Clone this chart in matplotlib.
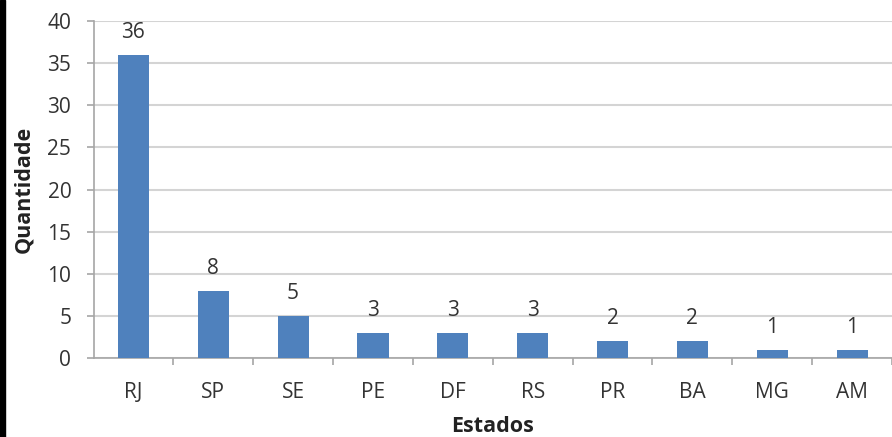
import matplotlib
matplotlib.use("Agg")
import matplotlib.pyplot as plt
from matplotlib.patches import Rectangle

categories = ["RJ", "SP", "SE", "PE", "DF", "RS", "PR", "BA", "MG", "AM"]
values = [36, 8, 5, 3, 3, 3, 2, 2, 1, 1]
yticks = [0, 5, 10, 15, 20, 25, 30, 35, 40]

plt.rcParams['font.family'] = ['Open Sans', 'DejaVu Sans']

fig = plt.figure(figsize=(8.92, 4.37), dpi=100)
fig.patches.append(Rectangle((0, 0), 5 / 892, 1, transform=fig.transFigure,
                             color='black', zorder=10))
ax = fig.add_axes([93.5 / 892, (437 - 358) / 437, 1 - 93.5 / 892, (358 - 21) / 437])

x = list(range(len(categories)))
bars = ax.bar(x, values, width=0.39, color='#4F81BD', zorder=3)
for xi, v in zip(x, values):
    ax.annotate(str(v), (xi, v), xytext=(0, 12), textcoords='offset points',
                ha='center', va='baseline', fontsize=15, color='#333333')

ax.set_ylim(0, 40)
ax.set_yticks(yticks)
ax.set_xlim(-0.5, -0.5 + (892 - 93.5) / 80.3)
ax.set_xticks(x)
ax.set_xticklabels(categories)
ax.set_xticks([i + 0.5 for i in range(len(categories))], minor=True)
ax.tick_params(axis='x', which='major', length=0, pad=17, labelsize=15, labelcolor='#333333')
ax.tick_params(axis='x', which='minor', length=5, width=1.2, color='#A6A6A6', direction='out')
ax.tick_params(axis='y', length=5, width=1.2, color='#A6A6A6', labelsize=15, labelcolor='#333333', pad=11)
ax.grid(axis='y', color='#D4D4D4', linewidth=1.5, zorder=0)
for s in ['top', 'right']:
    ax.spines[s].set_visible(False)
for s in ['left', 'bottom']:
    ax.spines[s].set_color('#A6A6A6')
    ax.spines[s].set_linewidth(1.2)

ax.set_xlabel('Estados', fontsize=15.5, fontweight='bold', color='#222222', labelpad=10)
ax.set_ylabel('Quantidade', fontsize=15.5, fontweight='bold', color='#222222', labelpad=10)
ax.yaxis.set_label_coords(-(93.5 - 34) / (892 - 93.5), 0.5)

fig.savefig('out.png', dpi=100)
